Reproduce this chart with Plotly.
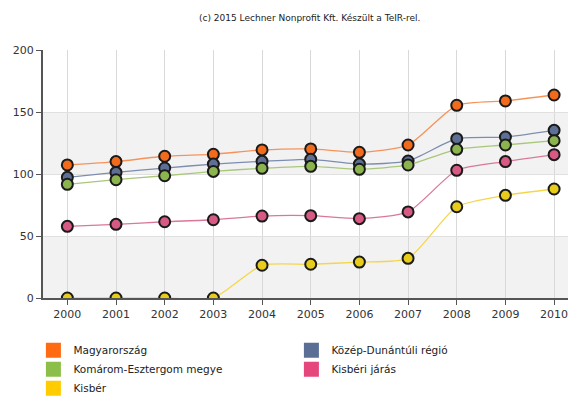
"""
Index-szerű idősor (2000-2010) öt területi szintre, TeIR stílusban
"""

import plotly.graph_objects as go

years = [2000, 2001, 2002, 2003, 2004, 2005, 2006, 2007, 2008, 2009, 2010]

names = [
    "Magyarország",
    "Közép-Dunántúli régió",
    "Komárom-Esztergom megye",
    "Kisbéri járás",
    "Kisbér",
]

magyarorszag = [107.3, 110, 114.3, 115.9, 119.4, 120.2, 117.5, 123.4, 155.4, 158.9, 163.7]
kozep_dunantul = [97.3, 101.3, 104.8, 108, 110.2, 111.8, 108, 110.5, 128.5, 129.8, 135.2]
komarom = [91.7, 95.4, 98.6, 102.1, 104.6, 106.2, 103.8, 107.3, 119.9, 123.4, 126.9]
kisberi_jaras = [57.8, 59.4, 61.5, 63.1, 66.1, 66.4, 64, 69.4, 103, 110, 115.6]
kisber = [0, 0, 0, 0, 26.4, 27.2, 29, 32, 73.6, 82.8, 87.9]

series = [magyarorszag, kozep_dunantul, komarom, kisberi_jaras, kisber]

# vonal, pont és jelmagyarázat színek
line_colors = ["#f7935a", "#7d8db0", "#a9c77a", "#d9789a", "#f5d64a"]
marker_colors = ["#f26b1d", "#5e6f96", "#8cb44e", "#d65a84", "#e8cc1c"]
legend_colors = ["#ff6a13", "#5b6e96", "#8cbf4a", "#e5477c", "#ffcc00"]

fig = go.Figure()

for name, vals, lc, mc in zip(names, series, line_colors, marker_colors):
    fig.add_trace(go.Scatter(
        x=years, y=vals, name=name,
        mode="lines+markers",
        line=dict(color=lc, width=1.3, shape="spline", smoothing=0.6),
        marker=dict(size=11, color=mc, line=dict(color="#1a1a1a", width=2)),
        showlegend=False,
        hoverinfo="x+y+name",
    ))

# négyzetes jelmagyarázat
for name, c in zip(names, legend_colors):
    fig.add_trace(go.Scatter(
        x=[None], y=[None], name=name, mode="markers",
        marker=dict(symbol="square", size=15, color=c),
        showlegend=True,
    ))

# szürke sávok
for y0, y1 in [(0, 50), (100, 150)]:
    fig.add_shape(type="rect", xref="paper", yref="y", x0=0, x1=1, y0=y0, y1=y1,
                  fillcolor="#f2f2f2", line_width=0, layer="below")

# az oldal 8 px-es body-margója miatt kicsit kisebb a vászon
fig.update_layout(
    width=568, height=393,
    margin=dict(l=35, r=0, t=42, b=103, autoexpand=False),
    paper_bgcolor="white", plot_bgcolor="white",
    font=dict(family="DejaVu Sans, Verdana, sans-serif", size=11, color="#333333"),
    annotations=[dict(
        text="(c) 2015 Lechner Nonprofit Kft. Készült a TeIR-rel.",
        xref="paper", yref="paper", x=0.5, y=1.0, yshift=39,
        showarrow=False, font=dict(size=9, color="#222222"),
    )],
    legend=dict(
        orientation="h", x=-0.018, xanchor="left", y=-0.152, yanchor="top",
        entrywidth=213, entrywidthmode="pixels",
        font=dict(size=10.5, color="#222222"),
        itemsizing="trace", tracegroupgap=0,
    ),
    showlegend=True,
)

fig.update_xaxes(
    range=[1999.5, 2010.45], tickmode="array", tickvals=years,
    showgrid=True, gridcolor="#d9d9d9", gridwidth=1,
    showline=True, linecolor="#555555", linewidth=2,
    ticks="outside", ticklen=5, tickcolor="#555555",
    zeroline=False, fixedrange=True,
)

fig.update_yaxes(
    range=[0, 200], tickvals=[0, 50, 100, 150, 200],
    showgrid=True, gridcolor="#e0e0e0",
    showline=True, linecolor="#555555", linewidth=2,
    ticks="outside", ticklen=5, tickcolor="#555555",
    zeroline=False, fixedrange=True,
)

fig.write_html("out.html")
